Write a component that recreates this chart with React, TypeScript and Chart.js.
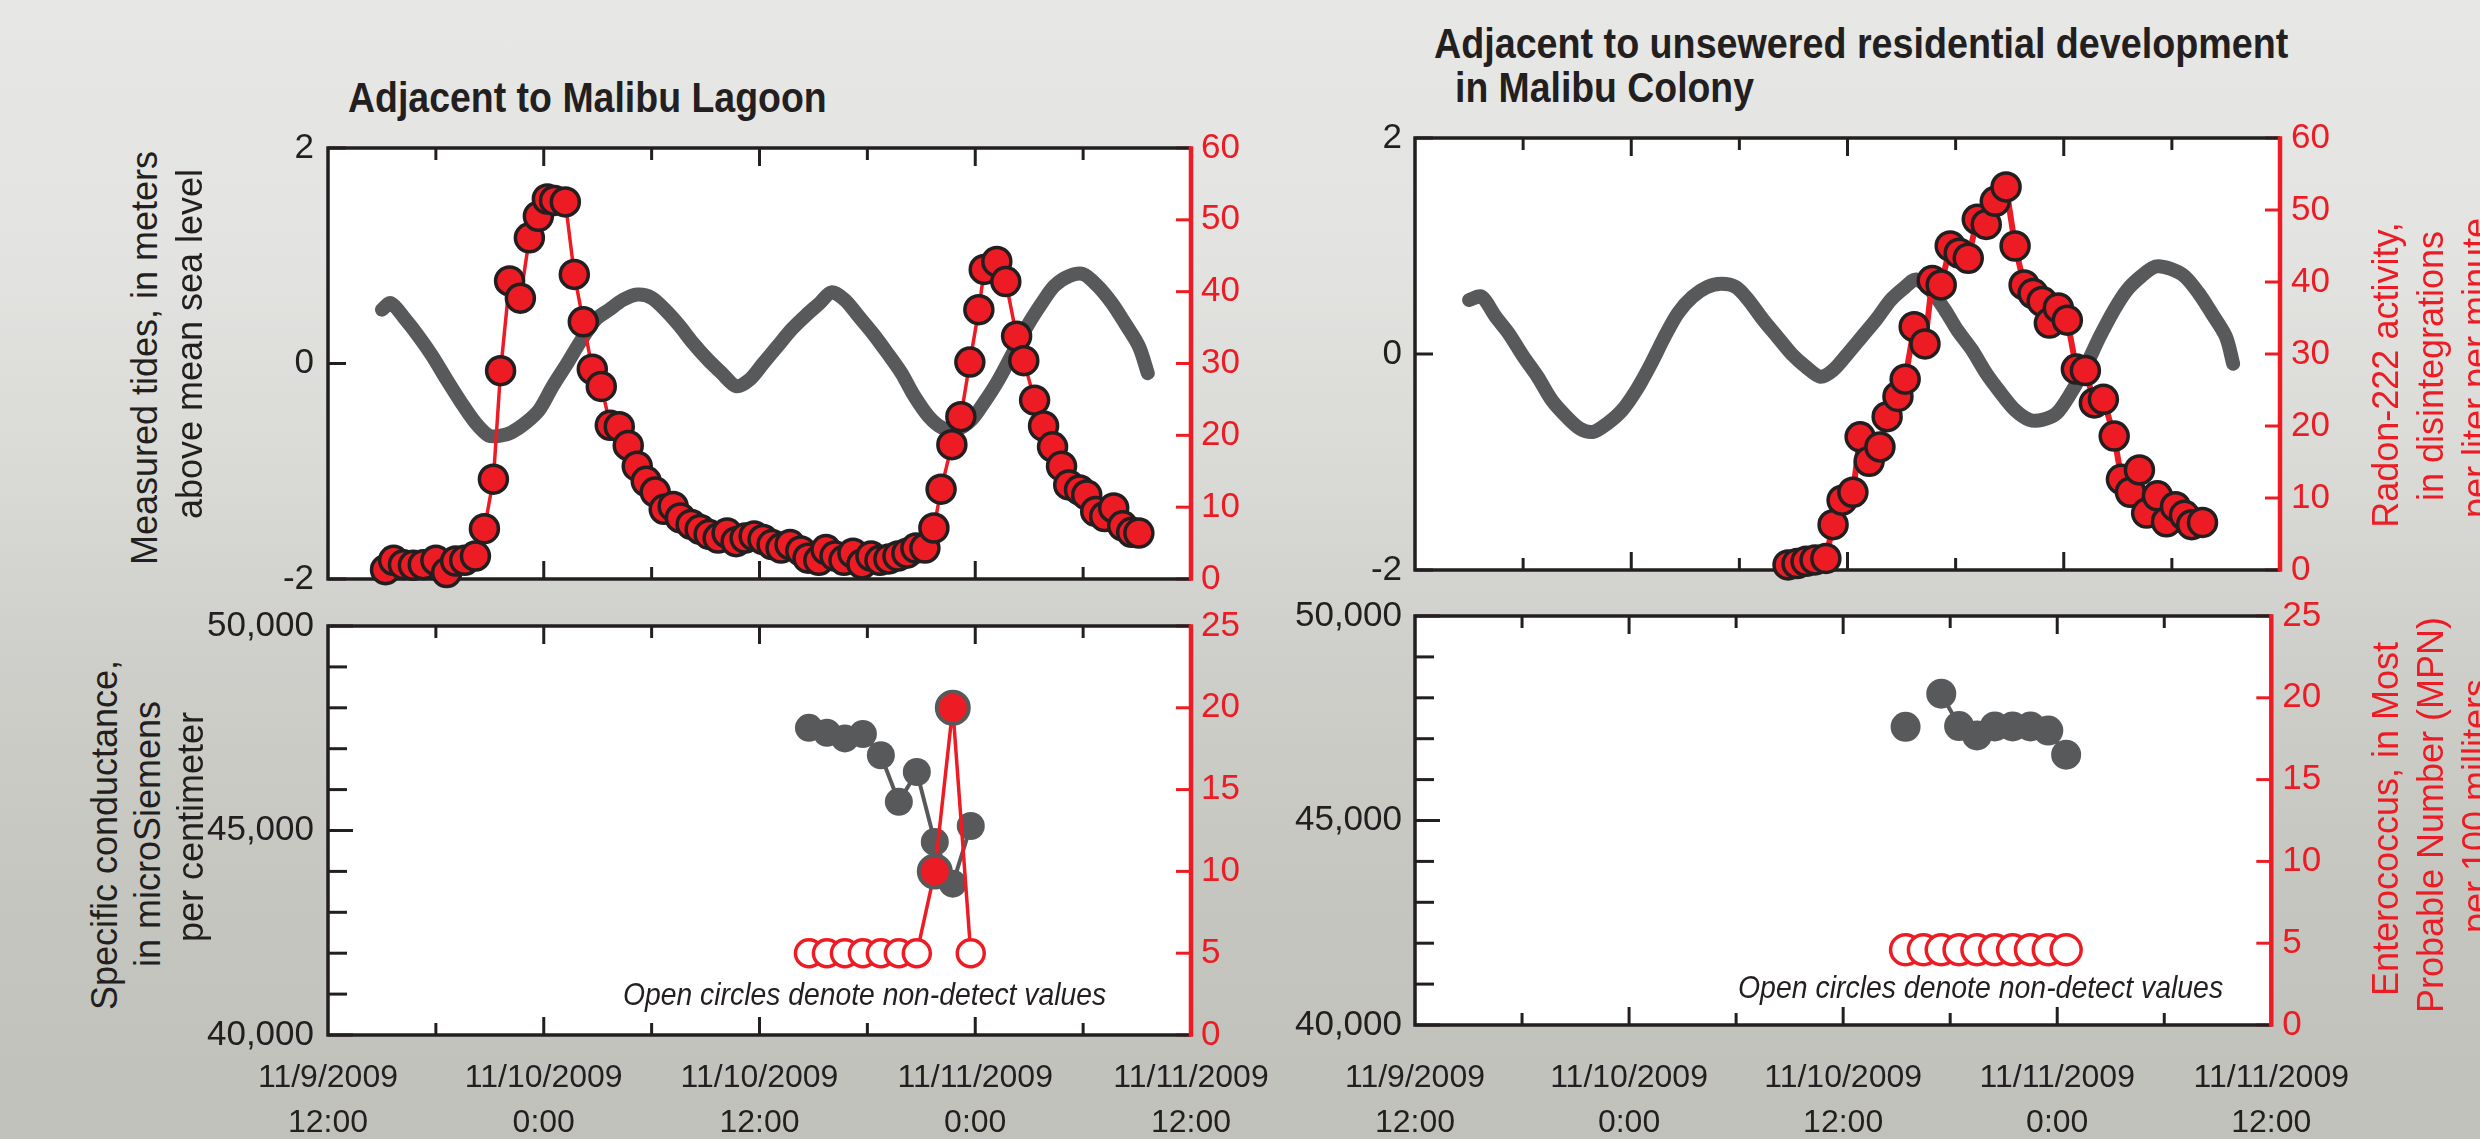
import React, { useEffect, useLayoutEffect, useRef, useState } from 'react';
import { Chart, registerables } from 'chart.js';

Chart.register(...registerables);

const INK = '#231f20';
const RED = '#ed1c24';
const GRAY = '#58595b';
const NARROW = '"Liberation Sans Narrow", "Liberation Sans", Arial, sans-serif';
const SANS = '"Liberation Sans", Arial, Helvetica, sans-serif';

// ---------------- data (x = hours after 11/9/2009 12:00) ----------------
const X_TICK_LABELS = [
  ['11/9/2009', '12:00'],
  ['11/10/2009', '0:00'],
  ['11/10/2009', '12:00'],
  ['11/11/2009', '0:00'],
  ['11/11/2009', '12:00'],
];

// Adjacent to Malibu Lagoon — measured tide (m)
const TIDE_L_HOURS = [3.0, 3.5, 4.3, 5.05, 5.8, 6.6, 7.4, 8.2, 8.95, 9.6, 10.2, 11.0, 11.75, 12.5, 13.3, 14.1, 14.9, 15.65, 16.4, 17.2, 18.0, 18.8, 19.55, 20.3, 21.1, 21.9, 22.7, 23.45, 24.2, 25.0, 25.8, 26.6, 27.35, 28.0, 28.75, 29.5, 30.3, 31.1, 31.9, 32.6, 33.4, 34.2, 35.0, 35.8, 36.5, 37.3, 38.1, 38.9, 39.7, 40.4, 41.2, 42.0, 42.8, 43.6, 44.3, 45.1, 45.6];
const TIDE_L = [0.50, 0.56, 0.41, 0.25, 0.07, -0.15, -0.36, -0.55, -0.67, -0.67, -0.64, -0.55, -0.43, -0.21, 0.0, 0.22, 0.41, 0.50, 0.59, 0.64, 0.61, 0.49, 0.35, 0.19, 0.04, -0.09, -0.21, -0.15, 0.0, 0.16, 0.32, 0.45, 0.56, 0.66, 0.59, 0.44, 0.28, 0.10, -0.09, -0.30, -0.49, -0.60, -0.61, -0.52, -0.36, -0.15, 0.10, 0.35, 0.56, 0.72, 0.81, 0.83, 0.72, 0.56, 0.38, 0.16, -0.09];

// Adjacent to Malibu Lagoon — radon-222 (dpm/L)
const RADON_L_HOURS = [3.2, 3.65, 4.2, 4.75, 5.3, 6.0, 6.6, 7.1, 7.6, 8.2, 8.7, 9.2, 9.6, 10.1, 10.7, 11.2, 11.7, 12.2, 12.6, 13.2, 13.7, 14.2, 14.7, 15.2, 15.7, 16.2, 16.7, 17.2, 17.7, 18.2, 18.7, 19.2, 19.6, 20.2, 20.7, 21.2, 21.7, 22.2, 22.7, 23.2, 23.7, 24.2, 24.7, 25.2, 25.7, 26.3, 26.7, 27.3, 27.7, 28.2, 28.7, 29.2, 29.7, 30.2, 30.7, 31.2, 31.7, 32.2, 32.7, 33.2, 33.7, 34.1, 34.7, 35.2, 35.7, 36.2, 36.5, 37.2, 37.7, 38.3, 38.7, 39.3, 39.8, 40.3, 40.8, 41.2, 41.8, 42.2, 42.7, 43.2, 43.7, 44.2, 44.7, 45.1];
const RADON_L = [1.3, 2.6, 2.0, 1.9, 2.0, 2.6, 0.9, 2.5, 2.6, 3.2, 7.0, 13.9, 29.0, 41.5, 39.1, 47.5, 50.5, 52.9, 52.7, 52.5, 42.4, 35.8, 29.2, 26.8, 21.4, 21.2, 18.6, 15.7, 13.6, 12.1, 9.7, 10.1, 8.5, 7.6, 6.9, 6.2, 5.7, 6.4, 5.2, 5.7, 6.0, 5.5, 4.8, 4.3, 4.8, 3.9, 2.9, 2.6, 4.1, 3.2, 2.6, 3.6, 2.1, 3.2, 2.6, 2.8, 3.2, 3.6, 4.3, 4.3, 7.1, 12.5, 18.7, 22.6, 30.2, 37.5, 43.1, 44.2, 41.4, 33.8, 30.4, 24.9, 21.3, 18.4, 15.7, 13.1, 12.4, 11.7, 9.4, 8.7, 9.9, 7.4, 6.5, 6.4];

// Malibu Colony — measured tide (m)
const TIDE_R_HOURS = [3.0, 3.7, 4.45, 5.2, 6.0, 6.8, 7.6, 8.4, 9.15, 9.9, 10.7, 11.5, 12.3, 13.1, 13.85, 14.6, 15.4, 16.2, 17.0, 17.8, 18.5, 19.3, 20.1, 20.9, 21.7, 22.5, 23.2, 24.0, 24.8, 25.6, 26.4, 27.2, 27.8, 28.6, 29.4, 30.1, 30.9, 31.7, 32.5, 33.3, 34.1, 34.8, 35.6, 36.4, 37.2, 38.0, 38.8, 39.5, 40.3, 41.1, 41.9, 42.7, 43.5, 44.2, 45.0, 45.4];
const TIDE_R = [0.50, 0.53, 0.35, 0.19, -0.02, -0.21, -0.43, -0.58, -0.69, -0.72, -0.64, -0.52, -0.33, -0.09, 0.16, 0.38, 0.53, 0.62, 0.65, 0.62, 0.50, 0.32, 0.16, 0.0, -0.12, -0.21, -0.15, 0.0, 0.16, 0.32, 0.50, 0.62, 0.69, 0.59, 0.41, 0.22, 0.04, -0.18, -0.36, -0.52, -0.61, -0.61, -0.55, -0.36, -0.12, 0.16, 0.41, 0.59, 0.72, 0.81, 0.79, 0.72, 0.56, 0.38, 0.16, -0.09];

// Malibu Colony — radon-222 (dpm/L)
const RADON_R_HOURS = [20.7, 21.2, 21.7, 22.2, 22.8, 23.2, 23.7, 24.3, 24.7, 25.2, 25.8, 26.2, 26.8, 27.2, 27.7, 28.3, 28.7, 29.2, 29.7, 30.2, 30.7, 31.2, 31.7, 32.2, 32.8, 33.3, 33.8, 34.3, 34.8, 35.2, 35.7, 36.2, 36.7, 37.2, 37.7, 38.2, 38.8, 39.2, 39.7, 40.2, 40.6, 41.2, 41.7, 42.2, 42.7, 43.1, 43.7];
const RADON_R = [0.7, 0.9, 1.2, 1.4, 1.6, 6.3, 9.7, 10.8, 18.5, 15.1, 17.1, 21.3, 24.1, 26.5, 33.8, 31.4, 40.2, 39.6, 45.0, 44.0, 43.3, 48.7, 48.0, 51.2, 53.2, 45.0, 39.6, 38.4, 37.3, 34.3, 36.4, 34.7, 27.9, 27.7, 23.2, 23.7, 18.6, 12.6, 10.8, 13.9, 7.9, 10.3, 6.7, 8.8, 7.6, 6.3, 6.6];

// Malibu Lagoon — specific conductance (µS/cm) and Enterococcus (MPN/100 mL)
const SAMPLE_L_HOURS = [26.75, 27.75, 28.75, 29.75, 30.75, 31.75, 32.75, 33.75, 34.75, 35.75];
const COND_L = [47510, 47390, 47250, 47360, 46840, 45700, 46430, 44720, 43700, 45110];
const ENTERO_L = [5, 5, 5, 5, 5, 5, 5, 10, 20, 5];
const ENTERO_L_DETECT = [false, false, false, false, false, false, false, true, true, false];

// Malibu Colony — specific conductance and Enterococcus
const SAMPLE_R_HOURS = [27.5, 28.5, 29.5, 30.5, 31.5, 32.5, 33.5, 34.5, 35.5, 36.5];
const COND_R = [47290, null, 48100, 47310, 47080, 47300, 47300, 47300, 47200, 46610];
const ENTERO_R = [4.6, 4.6, 4.6, 4.6, 4.6, 4.6, 4.6, 4.6, 4.6, 4.6];
const ENTERO_R_DETECT = [false, false, false, false, false, false, false, false, false, false];

// ---------------- helpers ----------------
const pts = (xs: number[], ys: (number | null)[]) => xs.map((x, i) => ({ x, y: ys[i] }));

const framePlugin: any = {
  id: 'frame',
  beforeDraw(chart: any) {
    const { ctx, chartArea: a } = chart;
    ctx.save();
    ctx.fillStyle = '#ffffff';
    ctx.fillRect(a.left, a.top, a.right - a.left, a.bottom - a.top);
    ctx.restore();
  },
  beforeDatasetsDraw(chart: any, _args: any, opts: any) {
    const { ctx, chartArea: a, scales } = chart;
    const seg = (x1: number, y1: number, x2: number, y2: number) => {
      ctx.beginPath();
      ctx.moveTo(x1, y1);
      ctx.lineTo(x2, y2);
      ctx.stroke();
    };
    ctx.save();
    ctx.lineCap = 'butt';
    ctx.strokeStyle = INK;
    ctx.lineWidth = 3;
    const xs = scales.x;
    for (const t of xs.ticks) {
      if (t.value <= xs.min || t.value >= xs.max) continue;
      const px = xs.getPixelForValue(t.value);
      const len = t.value % 12 === 0 ? 18 : 12;
      seg(px, a.bottom, px, a.bottom - len);
      seg(px, a.top, px, a.top + len);
    }
    const ys = scales.y;
    for (const t of ys.ticks) {
      const py = ys.getPixelForValue(t.value);
      const len = Math.abs(t.value % opts.majorEvery) < 1e-9 ? opts.majorLen : opts.minorLen;
      seg(a.left, py, a.left + len, py);
    }
    ctx.strokeStyle = RED;
    const y1 = scales.y1;
    for (const t of y1.ticks) {
      const py = y1.getPixelForValue(t.value);
      seg(a.right, py, a.right - 15, py);
    }
    ctx.strokeStyle = INK;
    ctx.lineWidth = 3.5;
    ctx.beginPath();
    ctx.moveTo(a.right, a.top);
    ctx.lineTo(a.left, a.top);
    ctx.lineTo(a.left, a.bottom);
    ctx.lineTo(a.right, a.bottom);
    ctx.stroke();
    ctx.strokeStyle = RED;
    ctx.lineWidth = 4.5;
    seg(a.right, a.top - 1.75, a.right, a.bottom + 1.75);
    ctx.restore();
  },
};

const ML = 150; // canvas space left of plot
const MR = 100; // canvas space right of plot
const MT = 40; // canvas space above plot

interface PanelOpts {
  yMin: number; yMax: number; yStep: number; yFmt: (v: number) => string;
  y1Min: number; y1Max: number; y1Step: number;
  showX: boolean; xPad: number; bottomH: number;
  leftPad: number; rightPad: number;
  majorEvery: number; majorLen: number; minorLen: number;
  datasets: any[];
}

function makeConfig(o: PanelOpts): any {
  const tickFont = { family: NARROW, size: 35 };
  return {
    type: 'line',
    data: { datasets: o.datasets },
    plugins: [framePlugin],
    options: {
      responsive: false,
      animation: false,
      devicePixelRatio: 1,
      events: [],
      layout: { padding: { top: MT, left: 0, right: 0, bottom: 0 } },
      plugins: {
        legend: { display: false },
        tooltip: { enabled: false },
        frame: { majorEvery: o.majorEvery, majorLen: o.majorLen, minorLen: o.minorLen },
      },
      scales: {
        x: {
          type: 'linear', position: 'bottom', min: 0, max: 48,
          grid: { display: false, drawTicks: false }, border: { display: false },
          ticks: {
            display: o.showX, stepSize: 6, autoSkip: false, maxRotation: 0, minRotation: 0,
            padding: o.xPad, color: INK,
            font: { family: NARROW, size: 32, lineHeight: 45 / 32 },
            callback: (v: number) => (v % 12 === 0 ? X_TICK_LABELS[v / 12] : ''),
          },
          afterFit: (s: any) => { s.height = o.bottomH; },
        },
        y: {
          type: 'linear', position: 'left', min: o.yMin, max: o.yMax,
          grid: { display: false, drawTicks: false }, border: { display: false },
          ticks: { stepSize: o.yStep, autoSkip: false, padding: o.leftPad, color: INK, font: tickFont, callback: o.yFmt },
          afterFit: (s: any) => { s.width = ML; },
        },
        y1: {
          type: 'linear', position: 'right', min: o.y1Min, max: o.y1Max,
          grid: { display: false, drawTicks: false }, border: { display: false },
          ticks: { stepSize: o.y1Step, autoSkip: false, padding: o.rightPad, color: RED, font: tickFont, callback: (v: number) => String(v) },
          afterFit: (s: any) => { s.width = MR; },
        },
      },
    },
  };
}

function Panel({ left, top, w, h, bottomH, config }: { left: number; top: number; w: number; h: number; bottomH: number; config: () => any }) {
  const ref = useRef<HTMLCanvasElement>(null);
  const cw = w + ML + MR;
  const ch = h + MT + bottomH;
  useEffect(() => {
    const chart = new Chart(ref.current as HTMLCanvasElement, config());
    return () => chart.destroy();
  }, []);
  return (
    <canvas
      ref={ref}
      width={cw}
      height={ch}
      style={{ position: 'absolute', left: left - ML, top: top - MT, width: cw, height: ch }}
    />
  );
}

function FitText({ text, x, baseline, size, width, bold, italic }: { text: string; x: number; baseline: number; size: number; width: number; bold?: boolean; italic?: boolean }) {
  const ref = useRef<HTMLDivElement>(null);
  const [k, setK] = useState(1);
  useLayoutEffect(() => {
    const el = ref.current;
    if (!el) return;
    const wd = el.offsetWidth;
    if (wd > 0) setK(width / wd);
  }, [text, width]);
  return (
    <div
      ref={ref}
      style={{
        position: 'absolute', left: x, top: baseline - 0.8465 * size,
        fontFamily: NARROW, fontSize: size, lineHeight: `${size}px`,
        fontWeight: bold ? 700 : 400, fontStyle: italic ? 'italic' : 'normal',
        color: INK, whiteSpace: 'nowrap', transform: `scaleX(${k})`, transformOrigin: '0 0',
      }}
    >
      {text}
    </div>
  );
}

function RotText({ text, cx, cy, color }: { text: string; cx: number; cy: number; color: string }) {
  return (
    <div
      style={{
        position: 'absolute', left: cx, top: cy, fontFamily: SANS, fontSize: 36, lineHeight: '36px',
        color, whiteSpace: 'nowrap', transform: 'translate(-50%, -50%) rotate(-90deg)',
      }}
    >
      {text}
    </div>
  );
}

const tideFmt = (v: number) => String(v);
const condFmt = (v: number) => (v % 5000 === 0 ? v.toLocaleString('en-US') : '');

const tideDataset = (hours: number[], vals: number[]) => ({
  label: 'Measured tide', data: pts(hours, vals), yAxisID: 'y', order: 2,
  borderColor: GRAY, borderWidth: 14, pointRadius: 0, tension: 0.3, borderJoinStyle: 'round', borderCapStyle: 'round',
});
const radonDataset = (hours: number[], vals: number[], lw: number) => ({
  label: 'Radon-222', data: pts(hours, vals), yAxisID: 'y1', order: 1, clip: false,
  borderColor: RED, borderWidth: lw, pointRadius: 14, pointBorderWidth: 3.5,
  pointBorderColor: INK, pointBackgroundColor: RED,
});
const condDataset = (hours: number[], vals: (number | null)[], r: number) => ({
  label: 'Specific conductance', data: pts(hours, vals), yAxisID: 'y', order: 2, clip: false, spanGaps: false,
  borderColor: GRAY, borderWidth: 4, pointRadius: r, pointBorderWidth: 0,
  pointBackgroundColor: GRAY, pointBorderColor: GRAY,
});
const enteroDataset = (hours: number[], vals: number[], det: boolean[], r: number) => ({
  label: 'Enterococcus', data: pts(hours, vals), yAxisID: 'y1', order: 1, clip: false,
  borderColor: RED, borderWidth: 3.5,
  pointRadius: det.map((d) => (d ? 16 : r)),
  pointBorderWidth: det.map((d) => (d ? 4 : 3.5)),
  pointBackgroundColor: det.map((d) => (d ? RED : '#ffffff')),
  pointBorderColor: det.map((d) => (d ? GRAY : RED)),
});

export default function App() {
  return (
    <div
      style={{
        position: 'absolute', left: 0, top: 0, width: 2480, height: 1139, overflow: 'hidden',
        background: 'linear-gradient(180deg, #e7e8e6 0%, #e3e4e1 22%, #d9dad6 42%, #cecfca 58%, #c6c6c0 78%, #c1c1bb 100%)',
      }}
    >
      {/* titles */}
      <FitText text="Adjacent to Malibu Lagoon" x={348} baseline={113} size={42} width={479} bold />
      <FitText text="Adjacent to unsewered residential development" x={1434} baseline={59} size={42} width={854} bold />
      <FitText text="in Malibu Colony" x={1455} baseline={103} size={42} width={299} bold />

      {/* panels */}
      <Panel left={328} top={148} w={863} h={431} bottomH={40} config={() => makeConfig({
        yMin: -2, yMax: 2, yStep: 2, yFmt: tideFmt, y1Min: 0, y1Max: 60, y1Step: 10,
        showX: false, xPad: 0, bottomH: 40, leftPad: 14, rightPad: 10,
        majorEvery: 2, majorLen: 18, minorLen: 18,
        datasets: [radonDataset(RADON_L_HOURS, RADON_L, 3.5), tideDataset(TIDE_L_HOURS, TIDE_L)],
      })} />
      <Panel left={328} top={626} w={863} h={409} bottomH={120} config={() => makeConfig({
        yMin: 40000, yMax: 50000, yStep: 1000, yFmt: condFmt, y1Min: 0, y1Max: 25, y1Step: 5,
        showX: true, xPad: 21, bottomH: 120, leftPad: 14, rightPad: 10,
        majorEvery: 5000, majorLen: 25, minorLen: 19,
        datasets: [enteroDataset(SAMPLE_L_HOURS, ENTERO_L, ENTERO_L_DETECT, 13.5), condDataset(SAMPLE_L_HOURS, COND_L, 14)],
      })} />
      <Panel left={1415} top={138} w={865} h={432} bottomH={40} config={() => makeConfig({
        yMin: -2, yMax: 2, yStep: 2, yFmt: tideFmt, y1Min: 0, y1Max: 60, y1Step: 10,
        showX: false, xPad: 0, bottomH: 40, leftPad: 13, rightPad: 11,
        majorEvery: 2, majorLen: 18, minorLen: 18,
        datasets: [radonDataset(RADON_R_HOURS, RADON_R, 6), tideDataset(TIDE_R_HOURS, TIDE_R)],
      })} />
      <Panel left={1415} top={616} w={865} h={409} bottomH={120} config={() => makeConfig({
        yMin: 40000, yMax: 50000, yStep: 1000, yFmt: condFmt, y1Min: 0, y1Max: 25, y1Step: 5,
        showX: true, xPad: 31, bottomH: 120, leftPad: 13, rightPad: 11,
        majorEvery: 5000, majorLen: 25, minorLen: 19,
        datasets: [enteroDataset(SAMPLE_R_HOURS, ENTERO_R, ENTERO_R_DETECT, 15), condDataset(SAMPLE_R_HOURS, COND_R, 15)],
      })} />

      {/* annotations */}
      <FitText text="Open circles denote non-detect values" x={623} baseline={1005} size={32} width={483} italic />
      <FitText text="Open circles denote non-detect values" x={1738} baseline={998} size={32} width={485} italic />

      {/* left axis titles */}
      <RotText text="Measured tides, in meters" cx={144.5} cy={358} color={INK} />
      <RotText text="above mean sea level" cx={189.5} cy={344} color={INK} />
      <RotText text="Specific conductance," cx={104.5} cy={835} color={INK} />
      <RotText text="in microSiemens" cx={147.5} cy={834} color={INK} />
      <RotText text="per centimeter" cx={190.5} cy={827} color={INK} />

      {/* right axis titles */}
      <RotText text="Radon-222 activity," cx={2385.5} cy={375} color={RED} />
      <RotText text="in disintegrations" cx={2430.5} cy={366} color={RED} />
      <RotText text="per liter per minute" cx={2476} cy={368} color={RED} />
      <RotText text="Enterococcus, in Most" cx={2385.5} cy={819} color={RED} />
      <RotText text="Probable Number (MPN)" cx={2430.5} cy={815} color={RED} />
      <RotText text="per 100 milliters" cx={2476} cy={806} color={RED} />
    </div>
  );
}
